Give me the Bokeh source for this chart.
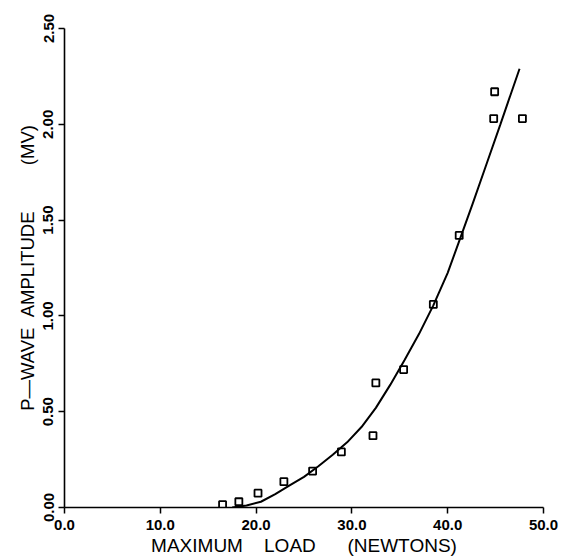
from bokeh.plotting import figure
from bokeh.models import Range1d, FixedTicker, NumeralTickFormatter
from bokeh.embed import file_html
from bokeh.resources import INLINE

# measured points (load in newtons, amplitude in MV)
load = [16.5, 18.2, 20.2, 22.9, 25.9, 28.9, 32.2, 32.5, 35.4, 38.5, 41.2, 44.8, 44.9, 47.8]
amp = [0.015, 0.03, 0.075, 0.135, 0.19, 0.29, 0.375, 0.65, 0.72, 1.06, 1.42, 2.03, 2.17, 2.03]

# fitted curve
curve_load = [17.5, 19.0, 20.5, 22.0, 23.5, 25.0, 26.5, 28.0, 29.5, 31.0, 32.5, 34.0,
              35.5, 37.0, 38.5, 40.0, 41.2, 42.6, 44.0, 45.5, 47.5]
curve_amp = [0.0, 0.01, 0.03, 0.07, 0.115, 0.16, 0.215, 0.275, 0.34, 0.42, 0.52, 0.64,
             0.77, 0.905, 1.055, 1.225, 1.39, 1.585, 1.785, 2.0, 2.29]

x_ticks = [0, 10, 20, 30, 40, 50]
y_ticks = [0, 0.5, 1.0, 1.5, 2.0, 2.5]

p = figure(width=563, height=558, output_backend="svg", toolbar_location=None,
           x_range=Range1d(0, 50), y_range=Range1d(0, 2.5),
           min_border_left=64, min_border_right=20, min_border_top=28, min_border_bottom=51)
p.outline_line_color = None
p.xgrid.grid_line_color = None
p.ygrid.grid_line_color = None
p.background_fill_color = "white"

p.line(curve_load, curve_amp, line_color="black", line_width=2)
p.scatter(load, amp, marker="square", size=7, fill_color=None, line_color="black", line_width=1.8)

for ax in (p.xaxis[0], p.yaxis[0]):
    ax.axis_line_color = "black"
    ax.axis_line_width = 1.6
    ax.major_tick_line_color = "black"
    ax.major_tick_line_width = 1.5
    ax.major_tick_out = 6
    ax.major_tick_in = 0
    ax.minor_tick_line_color = None
    ax.major_label_text_font = "Liberation Sans"
    ax.major_label_text_font_style = "bold"
    ax.major_label_text_font_size = "15px"
    ax.major_label_text_color = "black"
    ax.axis_label_text_font = "Liberation Sans"
    ax.axis_label_text_font_style = "normal"
    ax.axis_label_text_color = "black"

p.xaxis.major_label_standoff = 6
p.xaxis.axis_label_standoff = 2
p.xaxis.axis_label_text_font_size = "19px"
p.yaxis.major_label_standoff = 5
p.yaxis.axis_label_standoff = 3
p.yaxis.axis_label_text_font_size = "18.5px"

p.xaxis.ticker = FixedTicker(ticks=x_ticks)
p.yaxis.ticker = FixedTicker(ticks=y_ticks)
p.xaxis.formatter = NumeralTickFormatter(format="0.0")
p.yaxis.formatter = NumeralTickFormatter(format="0.00")
p.yaxis.major_label_orientation = "vertical"
p.xaxis.axis_label = "MAXIMUM" + "\u00a0" * 4 + "LOAD" + "\u00a0" * 6 + "(NEWTONS)"
p.yaxis.axis_label = "P\u2014WAVE" + "\u00a0" * 2 + "AMPLITUDE" + "\u00a0" * 9 + "(MV)"

open("out.html", "w").write(file_html(p, INLINE))
